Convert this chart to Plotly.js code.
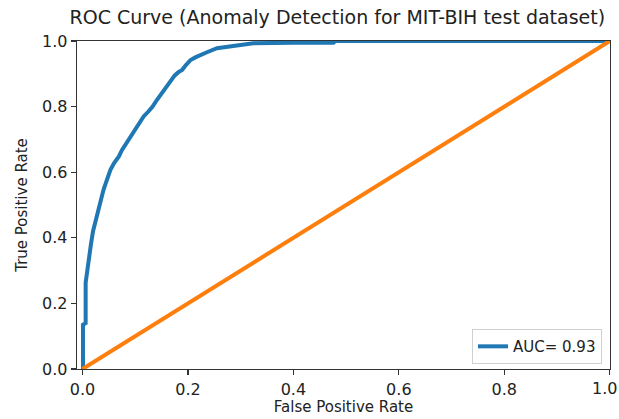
<!DOCTYPE html>
<html>
<head>
<meta charset="utf-8">
<script src="https://cdn.plot.ly/plotly-3.0.1.min.js"></script>
<style>
  html, body { margin: 0; padding: 0; background: #fff; overflow: hidden; }
  #chart { width: 619px; height: 419px; }
</style>
</head>
<body>
<div id="chart"></div>
<script>
// ROC curve points (false positive rate, true positive rate)
const fpr = [0, 0.001, 0.001, 0.006, 0.006, 0.009, 0.012, 0.016, 0.020, 0.025, 0.030, 0.034,
  0.040, 0.046, 0.053, 0.060, 0.069, 0.075, 0.083, 0.091, 0.100, 0.108, 0.116, 0.125,
  0.133, 0.141, 0.150, 0.159, 0.167, 0.175, 0.182, 0.189, 0.197, 0.205, 0.214, 0.223,
  0.235, 0.255, 0.275, 0.293, 0.324, 0.400, 0.476, 0.480, 0.600, 0.800, 1.000];
const tpr = [0, 0, 0.135, 0.140, 0.263, 0.300, 0.349, 0.380, 0.420, 0.455, 0.490, 0.516,
  0.547, 0.575, 0.607, 0.628, 0.648, 0.668, 0.688, 0.709, 0.730, 0.750, 0.770, 0.785,
  0.800, 0.820, 0.840, 0.860, 0.881, 0.895, 0.905, 0.912, 0.928, 0.942, 0.950, 0.957,
  0.965, 0.978, 0.982, 0.985, 0.993, 0.995, 0.995, 1.000, 1.000, 1.000, 1.000];

// chance line
const chanceX = [0, 1];
const chanceY = [0, 1];

const aucLabel = 'AUC= 0.93';
const tickVals = [0, 0.2, 0.4, 0.6, 0.8, 1.0];
const tickText = ['0.0', '0.2', '0.4', '0.6', '0.8', '1.0'];

const font = 'DejaVu Sans, sans-serif';

const traces = [
  {
    x: fpr, y: tpr, type: 'scatter', mode: 'lines', name: aucLabel,
    line: { color: '#1f77b4', width: 4, shape: 'linear' }
  },
  {
    x: chanceX, y: chanceY, type: 'scatter', mode: 'lines', showlegend: false,
    line: { color: '#ff7f0e', width: 4 }
  }
];

const axisCommon = {
  showgrid: false, zeroline: false,
  showline: true, mirror: true, linecolor: '#333', linewidth: 1.3,
  ticks: 'outside', ticklen: 5, tickwidth: 1.2, tickcolor: '#333',
  tickvals: tickVals,
  tickfont: { family: font, size: 16, color: '#222' }
};

// the last x label sits flush with the right edge of the page so it stays whole
const xTickText = tickText.slice(0, -1).concat(['']);

const layout = {
  width: 619, height: 419,
  margin: { l: 77, r: 9, t: 41, b: 50 },
  paper_bgcolor: '#fff', plot_bgcolor: '#fff',
  title: {
    text: 'ROC Curve (Anomaly Detection for MIT-BIH test dataset)',
    font: { family: font, size: 19, color: '#222' },
    x: 0.545, xanchor: 'center', y: 0.958, yanchor: 'middle'
  },
  xaxis: Object.assign({}, axisCommon, {
    range: [-0.0104, 1.0005],
    ticktext: xTickText,
    title: { text: 'False Positive Rate', font: { family: font, size: 15, color: '#222' }, standoff: 2 }
  }),
  yaxis: Object.assign({}, axisCommon, {
    range: [0, 1.0],
    ticktext: tickText,
    title: { text: 'True Positive Rate', font: { family: font, size: 15, color: '#222' }, standoff: 10 }
  }),
  annotations: [{
    text: tickText[tickText.length - 1],
    xref: 'paper', yref: 'paper',
    x: (619 - 77) / 533, xanchor: 'right',
    y: 0, yanchor: 'top', yshift: -8,
    showarrow: false,
    font: { family: font, size: 16, color: '#222' }
  }],
  showlegend: true,
  legend: {
    x: 0.985, xanchor: 'right', y: 0.015, yanchor: 'bottom',
    bgcolor: 'rgba(255,255,255,0.9)', bordercolor: '#d0d0d0', borderwidth: 1,
    font: { family: font, size: 15, color: '#222' }
  }
};

Plotly.newPlot('chart', traces, layout, { staticPlot: true, displayModeBar: false });
</script>
</body>
</html>
